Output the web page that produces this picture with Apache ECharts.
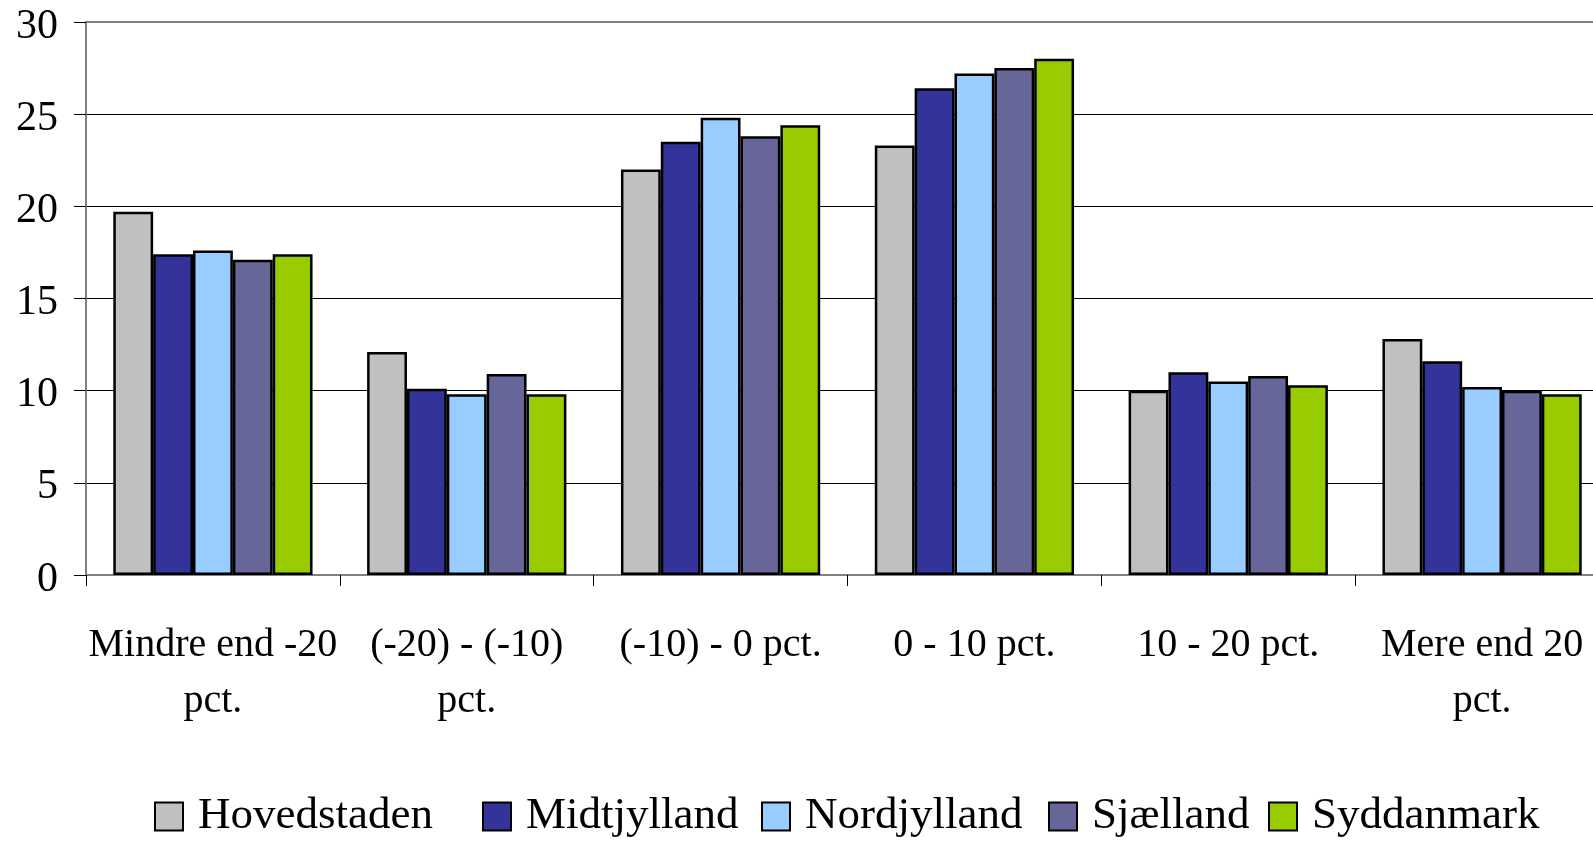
<!DOCTYPE html>
<html>
<head>
<meta charset="utf-8">
<script src="https://cdn.jsdelivr.net/npm/echarts@6/dist/echarts.min.js"></script>
<style>
html,body{margin:0;padding:0;background:#fff;}
#chart{width:1593px;height:841px;}
</style>
</head>
<body>
<div id="chart"></div>
<script>
const categories = ['Mindre end -20\npct.', '(-20) - (-10)\npct.', '(-10) - 0 pct.', '0 - 10 pct.', '10 - 20 pct.', 'Mere end 20\npct.'];
const seriesNames = ['Hovedstaden', 'Midtjylland', 'Nordjylland', 'Sjælland', 'Syddanmark'];
const hovedstaden = [19.7, 12.1, 22.0, 23.3, 10.0, 12.8];
const midtjylland = [17.4, 10.1, 23.5, 26.4, 11.0, 11.6];
const nordjylland = [17.6, 9.8, 24.8, 27.2, 10.5, 10.2];
const sjaelland = [17.1, 10.9, 23.8, 27.5, 10.8, 10.0];
const syddanmark = [17.4, 9.8, 24.4, 28.0, 10.3, 9.8];
const yTicks = [0, 5, 10, 15, 20, 25, 30];
const colors = ['#C0C0C0', '#333399', '#99CCFF', '#666699', '#99CC00'];

const allData = [hovedstaden, midtjylland, nordjylland, sjaelland, syddanmark];
const font = 'Liberation Serif';
const legendLeft = [149, 477, 756, 1043, 1263];

const chart = echarts.init(document.getElementById('chart'), null, {renderer: 'canvas'});
chart.setOption({
  animation: false,
  backgroundColor: '#fff',
  color: colors,
  grid: {
    left: 86, top: 22, width: 1523, bottom: 266,
    outerBoundsMode: 'none', containLabel: false,
    show: true, borderColor: '#808080', borderWidth: 2, backgroundColor: 'transparent'
  },
  legend: seriesNames.map((name, i) => ({
    data: [name],
    left: legendLeft[i], top: 789,
    itemWidth: 28, itemHeight: 28,
    icon: 'rect',
    itemStyle: {borderColor: '#000', borderWidth: 2},
    textStyle: {fontFamily: font, fontSize: 45, color: '#000', lineHeight: 45, padding: [0, 0, 0, 10]}
  })),
  xAxis: {
    type: 'category',
    data: categories,
    axisLine: {lineStyle: {color: '#808080', width: 2}},
    axisTick: {show: true, length: 11, lineStyle: {color: '#000', width: 1}},
    axisLabel: {
      fontFamily: font, fontSize: 40, color: '#000', lineHeight: 56, margin: 42, interval: 0
    }
  },
  yAxis: {
    type: 'value',
    min: yTicks[0], max: yTicks[yTicks.length - 1], interval: 5,
    axisLine: {show: true, lineStyle: {color: '#808080', width: 2}},
    axisTick: {show: true, length: 12, lineStyle: {color: '#000', width: 1}},
    axisLabel: {
      color: '#000', margin: 28,
      formatter: '{v|{value}}',
      rich: {v: {fontFamily: font, fontSize: 42, color: '#000', lineHeight: 42, padding: [9, 0, 0, 0]}}
    },
    splitLine: {show: true, showMaxLine: false, lineStyle: {color: '#000', width: 1}}
  },
  series: seriesNames.map((name, i) => ({
    name: name,
    type: 'bar',
    data: allData[i],
    barGap: '0%',
    barCategoryGap: '21.5%',
    itemStyle: {color: colors[i], borderColor: '#000', borderWidth: 2.5}
  }))
});
</script>
</body>
</html>
